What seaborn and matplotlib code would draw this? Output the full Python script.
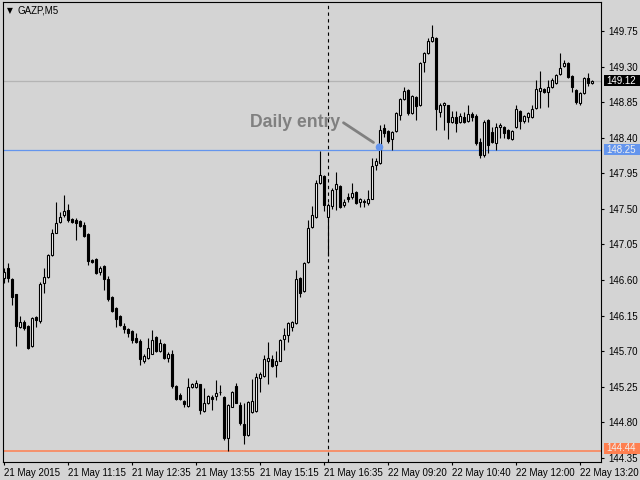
import numpy as np
import pandas as pd
import matplotlib
matplotlib.use("Agg")
import matplotlib.pyplot as plt
import matplotlib.transforms as mtransforms
from matplotlib.patches import Rectangle
import seaborn as sns

#%%
# GAZP M5 bars (open, high, low, close)
opens = [146.63, 146.75, 146.61, 146.42, 146.00, 146.07, 146.02, 145.76, 146.13, 146.08,
         146.56, 146.64, 146.92, 147.20, 147.33, 147.42, 147.49, 147.37, 147.36, 147.35,
         147.30, 147.18, 146.86, 146.87, 146.70, 146.78, 146.61, 146.39, 146.25, 146.15,
         146.02, 145.98, 145.95, 145.87, 145.83, 145.58, 145.61, 145.67, 145.88, 145.70,
         145.79, 145.61, 145.67, 145.26, 145.15, 145.07, 145.01, 145.25, 145.25, 145.28,
         144.94, 145.05, 145.12, 145.13, 145.19, 145.12, 144.60, 145.00, 145.26, 145.02,
         144.78, 144.64, 144.93, 144.94, 145.36, 145.39, 145.58, 145.60, 145.52, 145.58,
         145.85, 145.90, 146.00, 146.06, 146.63, 146.46, 146.83, 147.27, 147.40, 147.83,
         147.92, 147.40, 147.54, 147.75, 147.79, 147.55, 147.65, 147.65, 147.71, 147.59,
         147.60, 147.58, 147.63, 148.06, 148.08, 148.52, 148.48, 148.38, 148.49, 148.69,
         148.89, 149.00, 148.71, 148.92, 148.81, 149.36, 149.47, 149.62, 149.66, 148.73,
         148.81, 148.81, 148.60, 148.66, 148.60, 148.66, 148.61, 148.70, 148.68, 148.34,
         148.18, 148.62, 148.47, 148.33, 148.54, 148.54, 148.50, 148.38, 148.54, 148.74,
         148.61, 148.66, 148.66, 148.78, 148.99, 149.02, 148.98, 149.04, 149.09, 149.21,
         149.31, 149.35, 149.18, 149.00, 148.84, 148.97, 149.15, 149.09]
highs = [146.75, 146.82, 146.63, 146.42, 146.15, 146.10, 146.03, 146.13, 146.14, 146.58,
         146.75, 146.93, 147.25, 147.59, 147.46, 147.68, 147.56, 147.38, 147.39, 147.36,
         147.33, 147.19, 146.87, 146.88, 146.78, 146.79, 146.65, 146.40, 146.26, 146.16,
         146.06, 145.99, 145.97, 145.93, 145.85, 145.67, 145.87, 145.97, 145.89, 145.85,
         145.80, 145.69, 145.71, 145.27, 145.17, 145.08, 145.36, 145.30, 145.33, 145.29,
         145.24, 145.14, 145.14, 145.34, 145.27, 145.13, 145.03, 145.20, 145.30, 145.06,
         145.05, 145.07, 145.35, 145.42, 145.44, 145.65, 145.82, 145.65, 145.70, 145.85,
         145.99, 146.07, 146.08, 146.73, 146.64, 146.83, 147.36, 147.54, 147.87, 148.23,
         147.93, 147.57, 147.77, 147.97, 147.80, 147.62, 147.70, 147.83, 147.73, 147.64,
         147.63, 147.74, 148.14, 148.14, 148.56, 148.57, 148.50, 148.48, 148.73, 148.90,
         149.04, 149.02, 148.94, 148.93, 149.36, 149.48, 149.66, 149.83, 149.67, 148.84,
         148.85, 148.82, 148.74, 148.74, 148.71, 148.73, 148.81, 148.73, 148.70, 148.40,
         148.62, 148.64, 148.54, 148.59, 148.59, 148.55, 148.51, 148.50, 148.81, 148.75,
         148.69, 148.72, 148.81, 149.13, 149.24, 149.03, 149.13, 149.16, 149.21, 149.47,
         149.38, 149.36, 149.19, 149.02, 148.98, 149.17, 149.22, 149.13]
lows = [146.56, 146.58, 146.29, 145.77, 145.99, 145.97, 145.73, 145.75, 146.00, 146.06,
        146.44, 146.62, 146.91, 147.19, 147.32, 147.40, 147.33, 147.32, 147.11, 147.27,
        147.15, 146.79, 146.82, 146.68, 146.66, 146.47, 146.34, 146.20, 146.00, 146.02,
        145.93, 145.88, 145.80, 145.80, 145.53, 145.55, 145.60, 145.66, 145.69, 145.69,
        145.60, 145.56, 145.23, 145.08, 145.08, 144.99, 144.99, 145.24, 145.24, 144.91,
        144.93, 145.03, 144.96, 145.08, 145.15, 144.58, 144.44, 144.99, 145.04, 144.77,
        144.53, 144.63, 144.92, 144.93, 145.18, 145.38, 145.29, 145.50, 145.38, 145.57,
        145.71, 145.82, 145.95, 146.05, 146.39, 146.45, 146.82, 147.26, 147.39, 147.82,
        147.47, 146.90, 147.50, 147.49, 147.51, 147.52, 147.59, 147.62, 147.56, 147.52,
        147.53, 147.55, 147.62, 147.99, 148.07, 148.41, 148.33, 148.25, 148.47, 148.62,
        148.88, 148.69, 148.70, 148.62, 148.80, 149.23, 149.46, 149.61, 148.50, 148.66,
        148.50, 148.38, 148.59, 148.47, 148.59, 148.59, 148.60, 148.61, 148.31, 148.14,
        148.16, 148.21, 148.33, 148.25, 148.40, 148.40, 148.38, 148.37, 148.52, 148.51,
        148.59, 148.60, 148.65, 148.76, 148.78, 148.97, 148.79, 149.03, 149.08, 149.19,
        149.30, 149.16, 148.98, 148.83, 148.82, 148.95, 149.06, 149.08]
closes = [146.70, 146.63, 146.39, 146.02, 146.07, 145.99, 145.74, 146.12, 146.10, 146.55,
          146.64, 146.92, 147.20, 147.32, 147.40, 147.47, 147.36, 147.33, 147.32, 147.28,
          147.16, 146.84, 146.83, 146.69, 146.75, 146.61, 146.36, 146.21, 146.11, 146.03,
          145.98, 145.93, 145.84, 145.82, 145.60, 145.64, 145.74, 145.84, 145.70, 145.80,
          145.62, 145.66, 145.26, 145.10, 145.10, 145.03, 145.25, 145.28, 145.30, 144.96,
          145.05, 145.13, 145.10, 145.17, 145.18, 144.60, 145.02, 145.19, 145.05, 144.79,
          144.64, 145.06, 145.07, 145.38, 145.41, 145.60, 145.62, 145.51, 145.57, 145.84,
          145.90, 146.06, 146.07, 146.61, 146.44, 146.82, 147.26, 147.42, 147.83, 147.93,
          147.55, 147.55, 147.74, 147.81, 147.52, 147.59, 147.62, 147.70, 147.58, 147.63,
          147.59, 147.63, 148.04, 148.11, 148.50, 148.46, 148.36, 148.47, 148.71, 148.89,
          148.99, 148.71, 148.93, 148.80, 149.35, 149.47, 149.62, 149.67, 148.76, 148.81,
          148.84, 148.60, 148.66, 148.59, 148.68, 148.60, 148.70, 148.66, 148.33, 148.18,
          148.60, 148.31, 148.35, 148.54, 148.56, 148.46, 148.40, 148.49, 148.76, 148.61,
          148.68, 148.71, 148.76, 149.02, 149.03, 148.98, 149.04, 149.13, 149.19, 149.28,
          149.35, 149.17, 149.04, 148.85, 148.97, 149.16, 149.09, 149.12]

time_labels = ['21 May 2015', '21 May 11:15', '21 May 12:35', '21 May 13:55',
               '21 May 15:15', '21 May 16:35', '22 May 09:20', '22 May 10:40',
               '22 May 12:00', '22 May 13:20']
bars_per_label = 16

price_ticks = [149.75, 149.30, 148.85, 148.40, 147.95, 147.50, 147.05,
               146.60, 146.15, 145.70, 145.25, 144.80, 144.35]

bid_price = 149.12
entry_price = 148.25
low_price = 144.44
separator_bar = 81
entry_bar = 94
entry_dot_price = 148.28

#%%
df = pd.DataFrame({'open': opens, 'high': highs, 'low': lows, 'close': closes})
df['bar'] = np.arange(len(df))
df['bull'] = df['close'] >= df['open']

BG = '#d4d4d4'
BLUE = '#6495ed'
CORAL = '#ff7f50'
GREY = '#808080'

sns.set_style('white', rc={'axes.facecolor': BG, 'figure.facecolor': BG,
                           'axes.edgecolor': 'black', 'axes.linewidth': 0.8})
plt.rcParams['font.family'] = ['Liberation Sans', 'DejaVu Sans']

fig = plt.figure(figsize=(6.4, 4.8), dpi=100)
ax = fig.add_axes([2.5 / 640, 18.5 / 480, 598.5 / 640, 459.5 / 480])
ax.set_xlim(-0.25, 149.375)
ax.set_ylim(144.305, 150.117)

# level lines
ax.axhline(bid_price, color='#b4b4b4', lw=0.9, zorder=1)
ax.axhline(entry_price, color=BLUE, lw=0.9, zorder=1)
ax.axhline(low_price, color=CORAL, lw=1.1, zorder=1)
ax.axvline(separator_bar, color='black', lw=0.8, ls=(0, (3, 3)), zorder=1)

# candles
ax.vlines(df['bar'], df['low'], df['high'], color='black', lw=0.8, zorder=2)
body_low = df[['open', 'close']].min(axis=1)
body_h = (df['close'] - df['open']).abs().clip(lower=0.006)
ax.bar(df['bar'], body_h, bottom=body_low, width=0.5,
       color=np.where(df['bull'], 'white', 'black'),
       edgecolor='black', linewidth=0.8, zorder=3)

# annotation
ax.text(61.5, 148.54, 'Daily entry', fontsize=12.7, fontweight='bold',
        color=GREY, ha='left', va='baseline', zorder=4)
ax.plot([85.0, 92.5], [148.59, 148.34], color=GREY, lw=2, zorder=4)
sns.scatterplot(x=[entry_bar], y=[entry_dot_price], color=BLUE, s=30,
                edgecolor='none', ax=ax, zorder=5, legend=False)

# axes / ticks
ax.set_xticks(np.arange(len(time_labels)) * bars_per_label)
ax.set_xticklabels(time_labels, ha='left')
ax.tick_params(axis='x', length=2.5, width=0.8, pad=2, labelsize=7, direction='out',
               bottom=True, colors='black')
ax.yaxis.tick_right()
ax.set_yticks(price_ticks)
ax.set_yticklabels([f'{p:.2f}' for p in price_ticks])
ax.tick_params(axis='y', length=2.5, width=0.8, pad=3, labelsize=7, direction='out',
               right=True, left=False, colors='black')
ax.set_xlabel('')
ax.set_ylabel('')

# price boxes on the scale, running from the axis to the image edge
tr = mtransforms.blended_transform_factory(ax.transAxes, ax.transData)
px_price = (150.117 - 144.305) / 459.5
for val, fc, tc, dy in [(bid_price, 'black', 'white', 0),
                        (entry_price, BLUE, '#f0f0f0', 0),
                        (low_price, CORAL, '#f0f0f0', 2.5)]:
    mid = val + dy * px_price
    ax.add_patch(Rectangle((1.005, mid - 5.5 * px_price), 0.065, 11 * px_price,
                           transform=tr, facecolor=fc, edgecolor='none',
                           clip_on=False, zorder=6))
    ax.text(1.0085, mid, f'{val:.2f}', transform=tr, fontsize=7, color=tc,
            ha='left', va='center', clip_on=False, zorder=7)

# chart header
fig.text(7 / 640, 1 - 10.5 / 480, '\u25bc', fontsize=5.5, family='DejaVu Sans',
         ha='left', va='center', color='black')
fig.text(18 / 640, 1 - 10.5 / 480, 'GAZP,M5', fontsize=7, ha='left', va='center',
         color='black')

fig.savefig('out.png', dpi=100, facecolor=BG)
